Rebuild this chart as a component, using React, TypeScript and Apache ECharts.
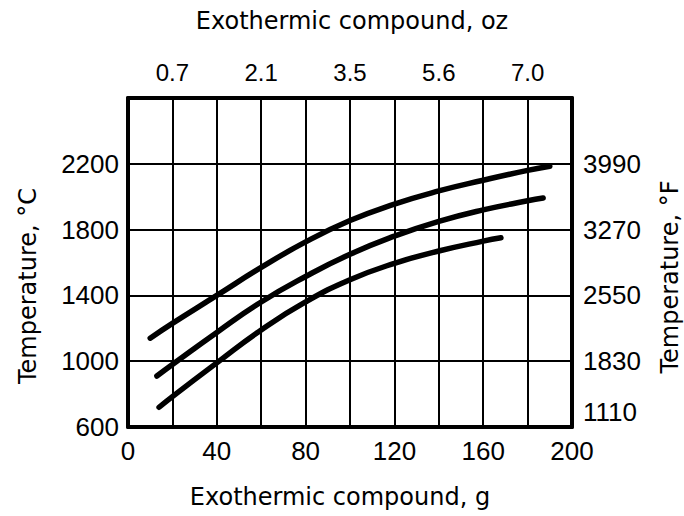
import React, { useEffect, useRef } from "react";
import * as echarts from "echarts";

// Tick values and labels
const gramTicks = [0, 40, 80, 120, 160, 200];
const ounceTickGrams = [20, 60, 100, 140, 180];
const ounceTickLabels = ["0.7", "2.1", "3.5", "5.6", "7.0"];
const celsiusTicks = [600, 1000, 1400, 1800, 2200];
const fahrenheitLabels = ["1110", "1830", "2550", "3270", "3990"];

// Curves: exothermic compound (g) vs temperature (°C)
const upperX = [10, 20, 40, 60, 80, 100, 120, 140, 160, 180, 190];
const upperY = [1140, 1230, 1400, 1570, 1725, 1855, 1955, 2035, 2100, 2160, 2185];
const middleX = [13, 20, 40, 60, 80, 100, 120, 140, 160, 180, 187];
const middleY = [910, 980, 1175, 1360, 1515, 1650, 1760, 1850, 1920, 1975, 1992];
const lowerX = [14, 20, 40, 60, 80, 100, 120, 140, 160, 168];
const lowerY = [720, 785, 990, 1190, 1360, 1495, 1595, 1670, 1730, 1750];

const zip = (xs: number[], ys: number[]) => xs.map((x, i) => [x, ys[i]]);

const NUM_FONT = "'Liberation Sans', Arial, sans-serif";
const TITLE_FONT = "'DejaVu Sans', sans-serif";

export default function App() {
  const ref = useRef<HTMLDivElement>(null);

  useEffect(() => {
    if (!ref.current) return;
    const chart = echarts.init(ref.current, undefined, { renderer: "svg" });

    const lineSeries = (name: string, xs: number[], ys: number[]) => ({
      name,
      type: "line",
      data: zip(xs, ys),
      smooth: true,
      showSymbol: false,
      symbol: "none",
      lineStyle: { color: "#000", width: 5.5, cap: "round" },
      xAxisIndex: 0,
      yAxisIndex: 0,
      z: 5,
    });

    chart.setOption({
      animation: false,
      backgroundColor: "#fff",
      grid: { left: 128, right: 112, top: 98, bottom: 89, containLabel: false },
      xAxis: [
        {
          type: "value",
          position: "bottom",
          min: 0,
          max: 200,
          interval: 20,
          axisLine: { show: true, lineStyle: { color: "#000", width: 4 } },
          axisTick: { show: false },
          splitLine: { show: true, lineStyle: { color: "#000", width: 2 } },
          axisLabel: {
            margin: 11,
            color: "#000",
            fontFamily: NUM_FONT,
            fontSize: 26,
            formatter: (v: number) => (gramTicks.includes(v) ? String(v) : ""),
          },
        },
        {
          type: "value",
          position: "top",
          min: 0,
          max: 200,
          interval: 20,
          axisLine: { show: true, onZero: false, lineStyle: { color: "#000", width: 4 } },
          axisTick: { show: false },
          splitLine: { show: false },
          axisLabel: {
            margin: 14,
            color: "#000",
            fontFamily: NUM_FONT,
            fontSize: 24,
            formatter: (v: number) => {
              const i = ounceTickGrams.indexOf(v);
              return i >= 0 ? ounceTickLabels[i] : "";
            },
          },
        },
      ],
      yAxis: [
        {
          type: "value",
          position: "left",
          min: 600,
          max: 2600,
          interval: 400,
          axisLine: { show: true, onZero: false, lineStyle: { color: "#000", width: 4 } },
          axisTick: { show: false },
          splitLine: { show: true, lineStyle: { color: "#000", width: 2 } },
          axisLabel: {
            margin: 9,
            color: "#000",
            fontFamily: NUM_FONT,
            fontSize: 26,
            formatter: (v: number) => (celsiusTicks.includes(v) ? String(v) : ""),
          },
        },
        {
          type: "value",
          position: "right",
          min: 600,
          max: 2600,
          interval: 400,
          axisLine: { show: true, onZero: false, lineStyle: { color: "#000", width: 4 } },
          axisTick: { show: false },
          splitLine: { show: false },
          axisLabel: {
            margin: 11,
            color: "#000",
            fontFamily: NUM_FONT,
            fontSize: 26,
            formatter: (v: number) => {
              const i = celsiusTicks.indexOf(v);
              if (i < 0) return "";
              return i === 0 ? `{up|${fahrenheitLabels[i]}}` : fahrenheitLabels[i];
            },
            rich: {
              up: {
                fontFamily: NUM_FONT,
                fontSize: 26,
                color: "#000",
                padding: [0, 0, 30, 0],
              },
            },
          },
        },
      ],
      graphic: [
        {
          type: "text",
          x: 352,
          y: 21,
          style: {
            text: "Exothermic compound, oz",
            font: `24px ${TITLE_FONT}`,
            fill: "#000",
            align: "center",
            verticalAlign: "middle",
          },
        },
        {
          type: "text",
          x: 340,
          y: 497,
          style: {
            text: "Exothermic compound, g",
            font: `24px ${TITLE_FONT}`,
            fill: "#000",
            align: "center",
            verticalAlign: "middle",
          },
        },
        {
          type: "text",
          x: 28,
          y: 286,
          rotation: Math.PI / 2,
          style: {
            text: "Temperature, °C",
            font: `24px ${TITLE_FONT}`,
            fill: "#000",
            align: "center",
            verticalAlign: "middle",
          },
        },
        {
          type: "text",
          x: 670,
          y: 277,
          rotation: Math.PI / 2,
          style: {
            text: "Temperature, °F",
            font: `24px ${TITLE_FONT}`,
            fill: "#000",
            align: "center",
            verticalAlign: "middle",
          },
        },
      ],
      series: [
        lineSeries("upper", upperX, upperY),
        lineSeries("middle", middleX, middleY),
        lineSeries("lower", lowerX, lowerY),
      ],
    });

    return () => chart.dispose();
  }, []);

  return (
    <div
      ref={ref}
      style={{ position: "fixed", left: 0, top: 0, width: 684, height: 516, background: "#fff" }}
    />
  );
}
